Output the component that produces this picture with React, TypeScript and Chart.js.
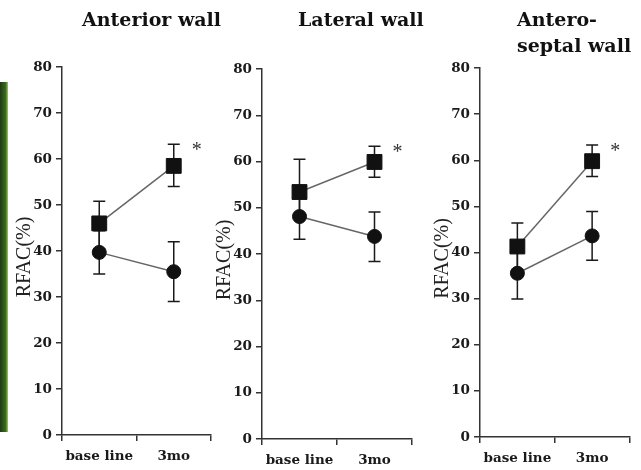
import React, { useEffect, useRef } from "react";
import { Chart, registerables } from "chart.js";

Chart.register(...registerables);

// ---- data ----
const categories = ["base line", "3mo"];
const yAxisLabel = "RFAC(%)";
const starLabel = "*";

const anteriorTitle = ["Anterior wall"];
const anteriorSquare = [46, 58.5];
const anteriorSquareHi = [50.8, 63.2];
const anteriorSquareLo = [40.5, 54];
const anteriorCircle = [39.7, 35.5];
const anteriorCircleHi = [44.4, 42];
const anteriorCircleLo = [35, 29];

const lateralTitle = ["Lateral wall"];
const lateralSquare = [53.4, 59.9];
const lateralSquareHi = [60.5, 63.3];
const lateralSquareLo = [48, 56.6];
const lateralCircle = [48.1, 43.8];
const lateralCircleHi = [53, 49.1];
const lateralCircleLo = [43.2, 38.4];

const septalTitle = ["Antero-", "septal wall"];
const septalSquare = [41.3, 59.8];
const septalSquareHi = [46.4, 63.3];
const septalSquareLo = [36.2, 56.5];
const septalCircle = [35.5, 43.6];
const septalCircleHi = [40.6, 48.9];
const septalCircleLo = [29.9, 38.3];

const yMin = 0;
const yMax = 80;
const yStep = 10;

// ---- layout (page coordinates) ----
const PAGE_H = 470;
const panels = [
  {
    title: anteriorTitle, sq: anteriorSquare, sqHi: anteriorSquareHi, sqLo: anteriorSquareLo,
    ci: anteriorCircle, ciHi: anteriorCircleHi, ciLo: anteriorCircleLo,
    canvasLeft: 0, canvasWidth: 240, axisLeft: 62, axisRight: 211, axisTop: 67, axisBottom: 435, titleX: 82,
  },
  {
    title: lateralTitle, sq: lateralSquare, sqHi: lateralSquareHi, sqLo: lateralSquareLo,
    ci: lateralCircle, ciHi: lateralCircleHi, ciLo: lateralCircleLo,
    canvasLeft: 215, canvasWidth: 230, axisLeft: 262, axisRight: 412, axisTop: 69, axisBottom: 439, titleX: 298,
  },
  {
    title: septalTitle, sq: septalSquare, sqHi: septalSquareHi, sqLo: septalSquareLo,
    ci: septalCircle, ciHi: septalCircleHi, ciLo: septalCircleLo,
    canvasLeft: 430, canvasWidth: 211, axisLeft: 480, axisRight: 631, axisTop: 68, axisBottom: 437, titleX: 517,
  },
];

const INK = "#1a1a1a";
const tickFont = { family: "'DejaVu Serif'", size: 13.5, weight: "bold" as const };

function Panel(p: any) {
  const ref = useRef<HTMLCanvasElement | null>(null);
  useEffect(() => {
    if (!ref.current) return;
    const yWidth = p.axisLeft - p.canvasLeft;
    const padRight = p.canvasLeft + p.canvasWidth - p.axisRight;
    const xHeight = PAGE_H - p.axisBottom;

    const errorBars = {
      id: "errorBars",
      beforeDatasetsDraw(chart: any) {
        const ctx = chart.ctx;
        const ys = chart.scales.y;
        ctx.save();
        ctx.strokeStyle = INK;
        ctx.lineWidth = 1.5;
        chart.data.datasets.forEach((ds: any, i: number) => {
          const meta = chart.getDatasetMeta(i);
          meta.data.forEach((el: any, j: number) => {
            const x = el.x;
            const yh = ys.getPixelForValue(ds.errHi[j]);
            const yl = ys.getPixelForValue(ds.errLo[j]);
            ctx.beginPath();
            ctx.moveTo(x, yh);
            ctx.lineTo(x, yl);
            ctx.moveTo(x - 6, yh);
            ctx.lineTo(x + 6, yh);
            ctx.moveTo(x - 6, yl);
            ctx.lineTo(x + 6, yl);
            ctx.stroke();
          });
        });
        ctx.restore();
      },
      afterDatasetsDraw(chart: any) {
        const ctx = chart.ctx;
        const ys = chart.scales.y;
        const meta = chart.getDatasetMeta(0);
        const el = meta.data[1];
        const ds = chart.data.datasets[0];
        ctx.save();
        ctx.fillStyle = "#333";
        ctx.font = "20px 'Liberation Serif'";
        ctx.textAlign = "center";
        ctx.textBaseline = "alphabetic";
        ctx.fillText(starLabel, el.x + 23, ys.getPixelForValue(ds.errHi[1]) + 12);
        ctx.restore();
      },
      afterDraw(chart: any) {
        const ctx = chart.ctx;
        const ca = chart.chartArea;
        ctx.save();
        ctx.fillStyle = "#111";
        ctx.font = "bold 19px 'DejaVu Serif'";
        ctx.textAlign = "left";
        ctx.textBaseline = "alphabetic";
        p.title.forEach((line: string, k: number) => {
          ctx.fillText(line, p.titleX - p.canvasLeft, 26 + k * 26);
        });
        ctx.translate(ca.left - 37, (ca.top + ca.bottom) / 2 + 6);
        ctx.rotate(-Math.PI / 2);
        ctx.font = "20px 'Liberation Serif'";
        ctx.fillStyle = "#222";
        ctx.textAlign = "center";
        ctx.textBaseline = "middle";
        ctx.fillText(yAxisLabel, 0, 0);
        ctx.restore();
      },
    };

    const chart = new Chart(ref.current, {
      type: "line",
      data: {
        labels: categories,
        datasets: [
          {
            data: p.sq, errHi: p.sqHi, errLo: p.sqLo,
            borderColor: "#666", borderWidth: 1.5,
            pointStyle: "rect", pointRadius: 10.5,
            pointBackgroundColor: "#111", pointBorderColor: "#111", pointBorderWidth: 1,
            clip: false,
          } as any,
          {
            data: p.ci, errHi: p.ciHi, errLo: p.ciLo,
            borderColor: "#666", borderWidth: 1.5,
            pointStyle: "circle", pointRadius: 7,
            pointBackgroundColor: "#111", pointBorderColor: "#111", pointBorderWidth: 1,
            clip: false,
          } as any,
        ],
      },
      options: {
        animation: false,
        responsive: false,
        events: [],
        layout: { padding: { left: 0, right: padRight, top: p.axisTop, bottom: 0 } },
        plugins: {
          legend: { display: false },
          tooltip: { enabled: false },
          title: { display: false },
        },
        scales: {
          x: {
            type: "category",
            offset: true,
            grid: { offset: true, drawOnChartArea: false, tickLength: 6, color: "#333", lineWidth: 1.5 },
            border: { display: true, color: "#333", width: 1.5 },
            ticks: { font: tickFont, color: INK, padding: 7, maxRotation: 0, autoSkip: false },
            afterFit: (s: any) => {
              s.height = xHeight;
              s.paddingLeft = 0;
              s.paddingRight = 0;
            },
          },
          y: {
            min: yMin,
            max: yMax,
            grid: { drawOnChartArea: false, tickLength: 6, color: "#333", lineWidth: 1.5 },
            border: { display: true, color: "#333", width: 1.5 },
            ticks: { stepSize: yStep, font: tickFont, color: INK, padding: 4 },
            afterFit: (s: any) => {
              s.width = yWidth;
              s.paddingTop = 0;
              s.paddingBottom = 0;
            },
          },
        },
      } as any,
      plugins: [errorBars],
    });
    return () => chart.destroy();
  }, []);
  return (
    <canvas
      ref={ref}
      width={p.canvasWidth}
      height={PAGE_H}
      style={{ position: "absolute", left: p.canvasLeft, top: 0, width: p.canvasWidth, height: PAGE_H }}
    />
  );
}

export default function App() {
  return (
    <div style={{ position: "absolute", left: 0, top: 0, width: 641, height: 470, background: "#fff", overflow: "hidden" }}>
      <div
        style={{
          position: "absolute", left: 0, top: 82, width: 8, height: 350,
          background: "linear-gradient(to right, #1e3a12, #3a6a1e 70%, #9ccf4e)",
        }}
      />
      {panels.map((p, i) => (
        <Panel key={i} {...p} />
      ))}
    </div>
  );
}
